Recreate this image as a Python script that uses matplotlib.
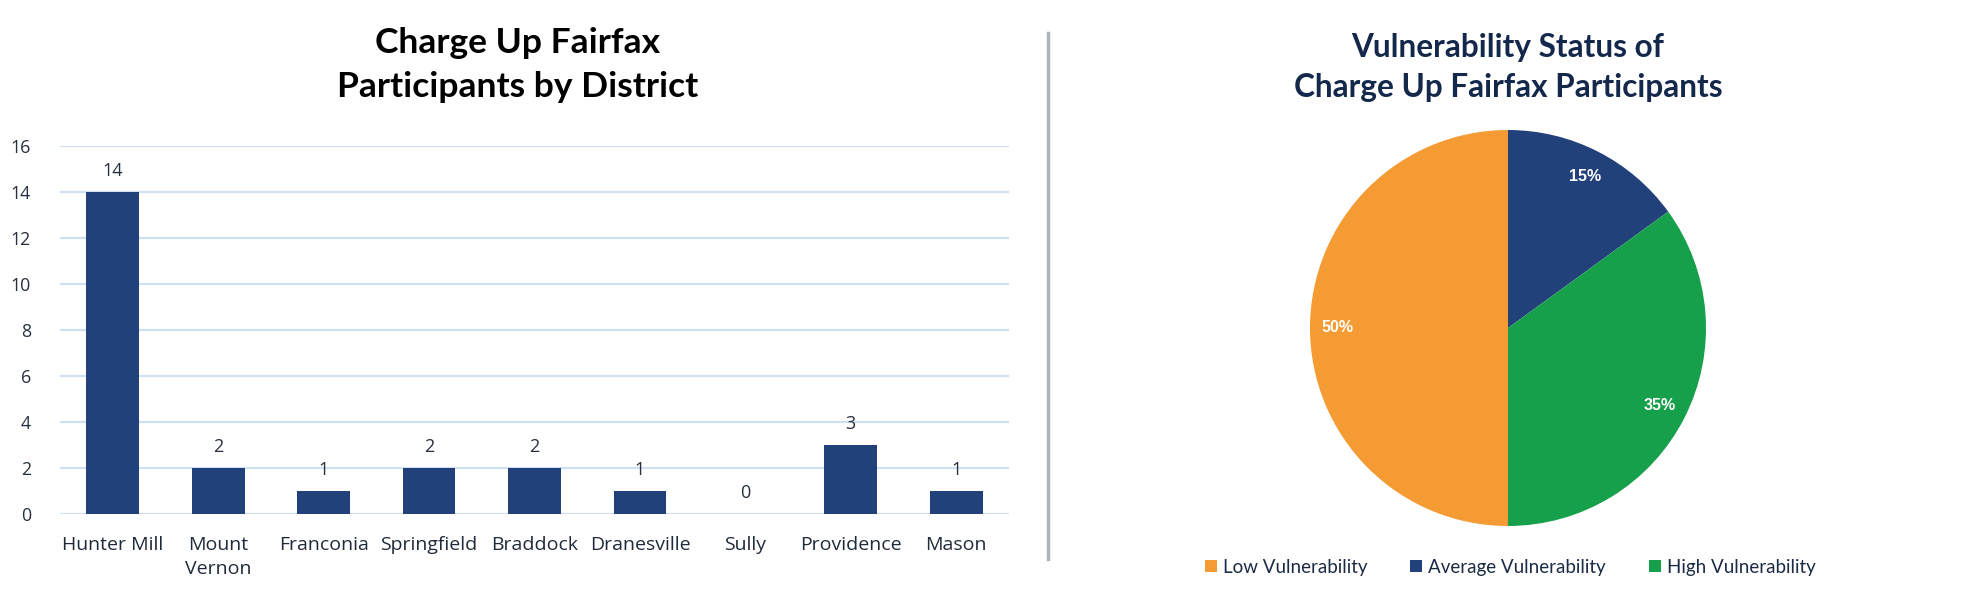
import matplotlib
matplotlib.use('Agg')
import matplotlib.pyplot as plt
from matplotlib.patches import Patch
from matplotlib.lines import Line2D

districts = ['Hunter Mill', 'Mount\nVernon', 'Franconia', 'Springfield', 'Braddock',
             'Dranesville', 'Sully', 'Providence', 'Mason']
participants = [14, 2, 1, 2, 2, 1, 0, 3, 1]

status = ['Low Vulnerability', 'Average Vulnerability', 'High Vulnerability']
share = [50, 15, 35]
status_colors = ['#F59B33', '#22407A', '#17A04B']

W, H = 1970, 600
fig = plt.figure(figsize=(W / 100, H / 100), dpi=100)


def box(l, t, r, b):
    # pixel box (from top-left) -> figure fraction rect
    return [l / W, 1 - b / H, (r - l) / W, (b - t) / H]


# ---- left: bar chart ----
ax = fig.add_axes(box(60, 146, 1009, 514))
x = range(len(districts))
ax.bar(x, participants, width=0.5, color='#22407A', zorder=3)
ax.set_xlim(-0.5, len(districts) - 0.5)
ax.set_ylim(0, 16)
ax.set_yticks(range(0, 17, 2))
ax.grid(axis='y', color='#CFE0F3', lw=1.6, zorder=0)
ax.set_axisbelow(True)
for s in ax.spines.values():
    s.set_visible(False)
ax.tick_params(length=0)
ax.tick_params(axis='y', pad=21, labelsize=12.8, labelcolor='#262F3D')
for t in ax.get_yticklabels():
    t.set_family('Open Sans')
ax.set_xticks(list(x))
ax.set_xticklabels(districts, fontsize=14, color='#1F2A3A', family='Open Sans',
                   linespacing=1.4)
ax.tick_params(axis='x', pad=16)
for i, v in enumerate(participants):
    ax.annotate(str(v), (i, v), xytext=(0, 16), textcoords='offset pixels',
                ha='center', va='baseline', fontsize=13, color='#262F3D',
                family='Open Sans')

fig.text(518 / W, 1 - 53 / H, 'Charge Up Fairfax', ha='center', va='baseline',
         fontsize=25.5, fontweight='bold', family='Lato', color='black')
fig.text(518 / W, 1 - 97 / H, 'Participants by District', ha='center', va='baseline',
         fontsize=25.5, fontweight='bold', family='Lato', color='black')

# divider
fig.add_artist(Line2D([1048 / W, 1048 / W], [1 - 33 / H, 1 - 559 / H],
                      color='#AEB4BC', lw=2.5))

# ---- right: pie chart ----
ax2 = fig.add_axes(box(1310, 130, 1706, 526))
wedges, _, pcts = ax2.pie(share, colors=status_colors, startangle=-90, counterclock=False,
                          autopct='%d%%', pctdistance=0.86,
                          wedgeprops=dict(linewidth=0),
                          textprops=dict(color='white', fontsize=11.5, fontweight='bold',
                                         family='Liberation Sans'))
ax2.set_xlim(-1, 1)
ax2.set_ylim(-1, 1)
ax2.set_aspect('equal')

fig.text(1508 / W, 1 - 57 / H, 'Vulnerability Status of', ha='center', va='baseline',
         fontsize=22.7, fontweight='bold', family='Lato', color='#14284B')
fig.text(1508 / W, 1 - 97 / H, 'Charge Up Fairfax Participants', ha='center',
         va='baseline', fontsize=22.7, fontweight='bold', family='Lato', color='#14284B')

handles = [Patch(facecolor=c, edgecolor='none', label=l) for c, l in zip(status_colors, status)]
fig.legend(handles=handles, loc='center', bbox_to_anchor=(1510 / W, 1 - 567 / H),
           ncol=3, frameon=False, handlelength=0.65, handleheight=0.65,
           handletextpad=0.3, columnspacing=2.3, labelcolor='#1C2B45',
           prop=dict(family='Lato', size=13.5))

fig.savefig('out.png', dpi=100, facecolor='white')
